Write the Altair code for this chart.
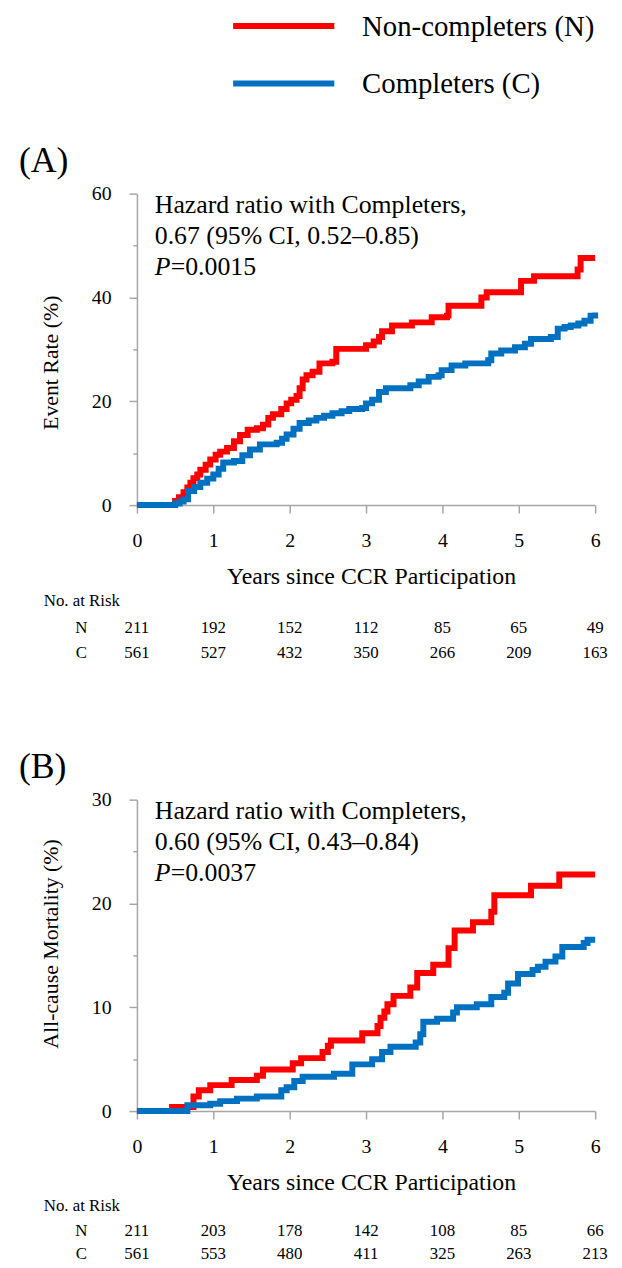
import altair as alt
import pandas as pd

FONT = "Liberation Serif"

# ---------------- data ----------------
SERIES = ["N", "C"]
SERIES_LABELS = ["Non-completers (N)", "Completers (C)"]
COLORS = ["#FF0000", "#0070C0"]

YEARS = [0, 1, 2, 3, 4, 5, 6]
X_TICKS = [0, 0.5, 1, 1.5, 2, 2.5, 3, 3.5, 4, 4.5, 5, 5.5, 6]

# Panel A: event rate (%)
A_N_T = [0, 0.50, 0.55, 0.61, 0.66, 0.70, 0.74, 0.79, 0.83, 0.90, 0.96, 1.03, 1.09, 1.18, 1.27,
         1.35, 1.45, 1.57, 1.65, 1.72, 1.78, 1.89, 1.96, 2.02, 2.09, 2.13, 2.17, 2.22, 2.30, 2.39,
         2.56, 2.61, 2.95, 3.00, 3.10, 3.17, 3.21, 3.34, 3.60, 3.86, 4.06, 4.08, 4.47, 4.51, 4.58,
         4.99, 5.03, 5.20, 5.72, 5.77, 5.81, 6.0]
A_N_V = [0, 0.8, 1.5, 2.5, 3.4, 4.3, 5.2, 5.9, 6.8, 7.8, 8.8, 9.7, 10.3, 11.0, 12.3,
         13.5, 14.5, 14.8, 15.5, 16.8, 17.5, 18.5, 19.6, 20.3, 21.0, 22.5, 24.2, 25.0, 25.7, 27.3,
         27.6, 30.1, 30.1, 30.8, 31.5, 32.4, 33.5, 34.6, 35.2, 36.2, 36.5, 38.4, 38.4, 40.0, 41.0,
         41.0, 43.2, 44.1, 44.1, 45.4, 47.6, 47.6]
A_C_T = [0, 0.50, 0.56, 0.61, 0.67, 0.75, 0.83, 0.92, 1.0, 1.07, 1.13, 1.27, 1.38, 1.48, 1.61,
         1.83, 1.90, 1.96, 2.05, 2.13, 2.25, 2.35, 2.45, 2.56, 2.68, 2.78, 2.95, 3.0, 3.08, 3.17,
         3.26, 3.47, 3.58, 3.69, 3.82, 3.95, 3.99, 4.12, 4.3, 4.6, 4.64, 4.77, 4.95, 5.08, 5.16,
         5.42, 5.51, 5.60, 5.68, 5.78, 5.86, 5.94, 6.0]
A_C_V = [0, 0.3, 0.7, 1.1, 2.7, 3.5, 4.3, 5.1, 5.9, 7.0, 8.2, 8.5, 9.6, 10.7, 11.7,
         12.0, 12.8, 13.6, 14.7, 15.8, 16.3, 16.8, 17.2, 17.7, 18.1, 18.5, 18.7, 19.6, 20.3, 21.8,
         22.5, 22.5, 23.1, 23.8, 24.7, 25.0, 26.0, 26.9, 27.3, 27.9, 29.2, 29.8, 30.4, 31.1, 32.0,
         32.4, 34.0, 34.3, 34.6, 35.0, 35.5, 36.5, 37.1]

# Panel B: all-cause mortality (%)
B_N_T = [0, 0.46, 0.74, 0.81, 0.96, 1.24, 1.57, 1.65, 2.04, 2.15, 2.43, 2.50, 2.54, 2.95, 3.15,
         3.19, 3.24, 3.28, 3.36, 3.58, 3.67, 3.88, 4.08, 4.16, 4.40, 4.64, 4.68, 5.16, 5.53, 6.0]
B_N_V = [0, 0.4, 1.4, 2.0, 2.5, 3.0, 3.4, 4.0, 4.6, 5.1, 5.7, 6.3, 6.8, 7.5, 8.2,
         9.0, 9.6, 10.3, 11.1, 11.9, 13.3, 14.1, 15.7, 17.4, 18.2, 19.2, 20.8, 21.7, 22.8, 22.8]
B_C_T = [0, 0.66, 0.96, 1.09, 1.31, 1.57, 1.89, 1.96, 2.06, 2.17, 2.58, 2.82, 3.08, 3.21, 3.32,
         3.65, 3.71, 3.75, 3.93, 4.14, 4.19, 4.45, 4.64, 4.81, 4.86, 4.99, 5.18, 5.25, 5.35, 5.48,
         5.57, 5.85, 5.90, 6.0]
B_C_V = [0, 0.57, 0.7, 0.96, 1.2, 1.4, 2.0, 2.3, 2.9, 3.3, 3.6, 4.5, 5.0, 5.7, 6.2,
         6.6, 7.4, 8.6, 8.9, 9.5, 10.0, 10.3, 11.0, 11.4, 12.3, 13.2, 13.6, 13.9, 14.4, 14.9,
         15.8, 16.2, 16.5, 16.5]

# Numbers at risk
A_RISK_N = [211, 192, 152, 112, 85, 65, 49]
A_RISK_C = [561, 527, 432, 350, 266, 209, 163]
B_RISK_N = [211, 203, 178, 142, 108, 85, 66]
B_RISK_C = [561, 553, 480, 411, 325, 263, 213]

A_HR = ["Hazard ratio with Completers,", "0.67 (95% CI, 0.52\u20130.85)"]
A_P = "=0.0015"
B_HR = ["Hazard ratio with Completers,", "0.60 (95% CI, 0.43\u20130.84)"]
B_P = "=0.0037"

X_TITLE = "Years since CCR Participation"

# ---------------- helpers ----------------
color_scale = alt.Scale(domain=SERIES, range=COLORS)
GRAY = "#A6A6A6"
W, H = 462, 314


def curves_df(nt, nv, ct, cv):
    return pd.DataFrame({
        "t": nt + ct,
        "pct": nv + cv,
        "grp": ["N"] * len(nt) + ["C"] * len(ct),
    })


def risk_df(rn, rc):
    return pd.DataFrame({
        "t": YEARS + YEARS,
        "n": rn + rc,
        "row": ["N"] * len(rn) + ["C"] * len(rc),
    })


def txt(s):
    return pd.DataFrame({"s": [s]})


def panel(curves, risk, ymax, ystep, ytitle, title_y, label, hr, pval, rows_y):
    x_enc = alt.X(
        "t:Q",
        scale=alt.Scale(domain=[0, 6], nice=False, zero=False),
        axis=alt.Axis(
            values=X_TICKS,
            labelExpr="datum.value % 1 === 0 ? format(datum.value, 'd') : ''",
            tickSize={"condition": {"test": "datum.value % 1 === 0", "value": 8}, "value": 4},
            labelPadding=18, labelFontSize=20, labelFlush=False, labelOverlap=False,
            title=X_TITLE, titleX=236, titleY=72, titleAlign="center",
            titleBaseline="middle", titleFontSize=24, grid=False,
        ),
    )
    yvals = list(range(0, ymax + 1, ystep // 2))
    y_enc = alt.Y(
        "pct:Q",
        scale=alt.Scale(domain=[0, ymax], nice=False),
        axis=alt.Axis(
            values=yvals,
            labelExpr="datum.value %% %d === 0 ? format(datum.value, 'd') : ''" % ystep,
            tickSize={"condition": {"test": "datum.value %% %d === 0" % ystep, "value": 8}, "value": 4},
            labelPadding=18, labelFontSize=20, labelFlush=False, labelOverlap=False,
            title=ytitle, titleX=-87, titleY=title_y, titleAlign="center",
            titleBaseline="middle", titleFontSize=22, grid=False,
        ),
    )
    lines = alt.Chart(curves).mark_line(
        interpolate="step-after", strokeWidth=6, strokeJoin="miter"
    ).encode(
        x=x_enc, y=y_enc,
        color=alt.Color("grp:N", scale=color_scale, legend=None),
    )
    layers = [lines]
    # risk table
    for r, yy in zip(SERIES, rows_y[1:]):
        layers.append(
            alt.Chart(risk).transform_filter(alt.datum.row == r)
            .mark_text(fontSize=17, font=FONT, baseline="middle", color="black")
            .encode(x="t:Q", y=alt.value(yy), text="n:Q")
        )
        layers.append(
            alt.Chart(txt(r)).mark_text(fontSize=17, font=FONT, baseline="middle", color="black")
            .encode(x=alt.value(-56), y=alt.value(yy), text="s:N")
        )
    layers.append(
        alt.Chart(txt("No. at Risk")).mark_text(fontSize=17, font=FONT, align="left",
                                                baseline="middle", color="black")
        .encode(x=alt.value(-94), y=alt.value(rows_y[0]), text="s:N")
    )
    # panel label
    layers.append(
        alt.Chart(txt(label)).mark_text(fontSize=36, font=FONT, align="left",
                                        baseline="middle", color="black")
        .encode(x=alt.value(-119), y=alt.value(-33), text="s:N")
    )
    # hazard ratio annotation
    for s, yy in zip(hr, [12, 43]):
        layers.append(
            alt.Chart(txt(s)).mark_text(fontSize=26, font=FONT, align="left",
                                        baseline="middle", color="black")
            .encode(x=alt.value(18), y=alt.value(yy), text="s:N")
        )
    layers.append(
        alt.Chart(txt("P")).mark_text(fontSize=26, font=FONT, fontStyle="italic", align="left",
                                      baseline="middle", color="black")
        .encode(x=alt.value(18), y=alt.value(74), text="s:N")
    )
    layers.append(
        alt.Chart(txt(pval)).mark_text(fontSize=26, font=FONT, align="left",
                                       baseline="middle", color="black")
        .encode(x=alt.value(34), y=alt.value(74), text="s:N")
    )
    return alt.layer(*layers).properties(width=W, height=H)


panel_a = panel(curves_df(A_N_T, A_N_V, A_C_T, A_C_V), risk_df(A_RISK_N, A_RISK_C),
                60, 20, "Event Rate (%)", 170, "(A)", A_HR, A_P, [411, 438, 463])
panel_b = panel(curves_df(B_N_T, B_N_V, B_C_T, B_C_V), risk_df(B_RISK_N, B_RISK_C),
                30, 10, "All-cause Mortality (%)", 145, "(B)", B_HR, B_P, [410, 435, 458])

# legend
leg_df = pd.DataFrame({"grp": SERIES, "label": SERIES_LABELS})
leg_y = alt.Y("grp:N", scale=alt.Scale(type="point", domain=SERIES, range=[0, 58], padding=0),
              axis=None)
legend_rules = alt.Chart(leg_df).mark_rule(strokeWidth=6).encode(
    x=alt.value(97), x2=alt.value(199), y=leg_y,
    color=alt.Color("grp:N", scale=color_scale, legend=None),
)
legend_text = alt.Chart(leg_df).mark_text(
    align="left", baseline="middle", fontSize=29, font=FONT, dy=1, color="black"
).encode(x=alt.value(227), y=leg_y, text="label:N")
legend = alt.layer(legend_rules, legend_text).properties(width=W, height=58)

inner = alt.vconcat(panel_a, panel_b, spacing=297, bounds="flush")
chart = alt.vconcat(legend, inner, spacing=111, bounds="flush").properties(
    padding={"left": 11, "top": 0, "right": 6, "bottom": 0}
).configure(font=FONT).configure_view(stroke=None).configure_axis(
    domainColor=GRAY, tickColor=GRAY, domainWidth=1.5, tickWidth=1.5,
    labelColor="black", titleColor="black", titleFontWeight="normal",
    labelFont=FONT, titleFont=FONT,
)

chart.save("out.html", embed_options={"renderer": "svg", "actions": False})
